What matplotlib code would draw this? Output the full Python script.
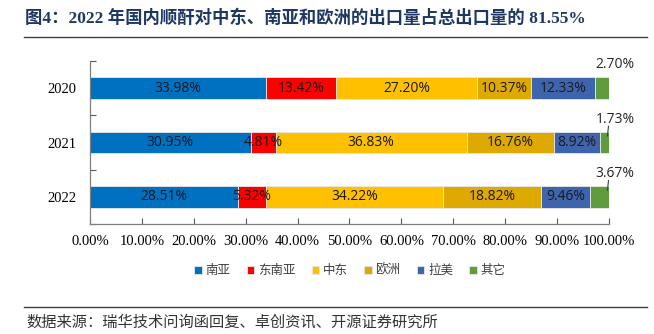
import numpy as np
import matplotlib.pyplot as plt

plt.rcParams['font.family'] = ['Noto Sans CJK SC', 'DejaVu Sans']

years = ["2020", "2021", "2022"]
regions = ["南亚", "东南亚", "中东", "欧洲", "拉美", "其它"]
shares = {
    "南亚":   [33.98, 30.95, 28.51],
    "东南亚": [13.42, 4.81, 5.32],
    "中东":   [27.20, 36.83, 34.22],
    "欧洲":   [10.37, 16.76, 18.82],
    "拉美":   [12.33, 8.92, 9.46],
    "其它":   [2.70, 1.73, 3.67],
}
colors = ["#0070C0", "#FF0000", "#FFC000", "#DEA900", "#3F64AE", "#5F9C3E"]
xticks = np.arange(0, 101, 10)

fig = plt.figure(figsize=(6.54, 3.34), dpi=100)
ax = fig.add_axes([0.1376, 0.3293, 0.7936, 0.4881])

ypos = np.arange(len(years))
left = np.zeros(len(years))
for name, col in zip(regions, colors):
    vals = np.array(shares[name])
    ax.barh(ypos, vals, left=left, height=0.4, color=col,
            edgecolor="#E8E8E8", linewidth=0.6, label=name)
    for i, v in enumerate(vals):
        txt = f"{v:.2f}%"
        if name == "其它":
            # small segment: label above the bar end, leader line when close
            xr = left[i] + v
            ax.text(xr + 1.2, i - 0.43, txt, ha="center", va="center",
                    fontsize=10, family="Open Sans", color="#262626")
            if i > 0:
                ax.plot([xr - 0.3, xr - 0.1], [i - 0.12, i - 0.3],
                        color="#404040", lw=0.8)
        else:
            ax.text(left[i] + v / 2, i, txt, ha="center", va="center",
                    fontsize=10, family="Open Sans", color="#1A1A1A")
    left += vals

ax.set_xlim(0, 100)
ax.set_ylim(2.5, -0.5)
ax.set_yticks([-0.5, 0.5, 1.5, 2.5])
ax.set_yticklabels([])
ax.set_yticks(ypos, minor=True)
ax.set_yticklabels(years, minor=True, family="Liberation Serif", fontsize=10.5)
ax.tick_params(axis="y", which="major", direction="in", length=4, color="#595959")
ax.tick_params(axis="y", which="minor", length=0, pad=10)
ax.set_xticks(xticks)
ax.set_xticklabels([f"{t:.2f}%" for t in xticks], family="Liberation Serif",
                   fontsize=10.5)
ax.tick_params(axis="x", direction="in", length=4, color="#595959", pad=8)
for s in ["top", "right"]:
    ax.spines[s].set_visible(False)
for s in ["left", "bottom"]:
    ax.spines[s].set_color("#7F7F7F")
    ax.spines[s].set_linewidth(0.9)

leg = fig.legend(loc="center", bbox_to_anchor=(0.535, 0.19), ncol=6,
                 frameon=False, fontsize=9, handlelength=0.6, handleheight=0.6,
                 handletextpad=0.3, columnspacing=1.3)
for t in leg.get_texts():
    t.set_color("#404040")

fig.text(0.038, 0.945, "图4：2022 年国内顺酐对中东、南亚和欧洲的出口量占总出口量的 81.55%",
         fontsize=12.5, fontweight="bold", color="#1F3763", va="center",
         family=["Liberation Serif", "Noto Sans CJK SC"])
fig.add_artist(plt.Line2D([0.037, 0.99], [0.889, 0.889], color="#404040", lw=1))
fig.add_artist(plt.Line2D([0.037, 0.99], [0.081, 0.081], color="#404040", lw=1))
fig.text(0.040, 0.035, "数据来源：瑞华技术问询函回复、卓创资讯、开源证券研究所",
         fontsize=11, color="#333333", va="center")

fig.savefig("out.png", dpi=100)
